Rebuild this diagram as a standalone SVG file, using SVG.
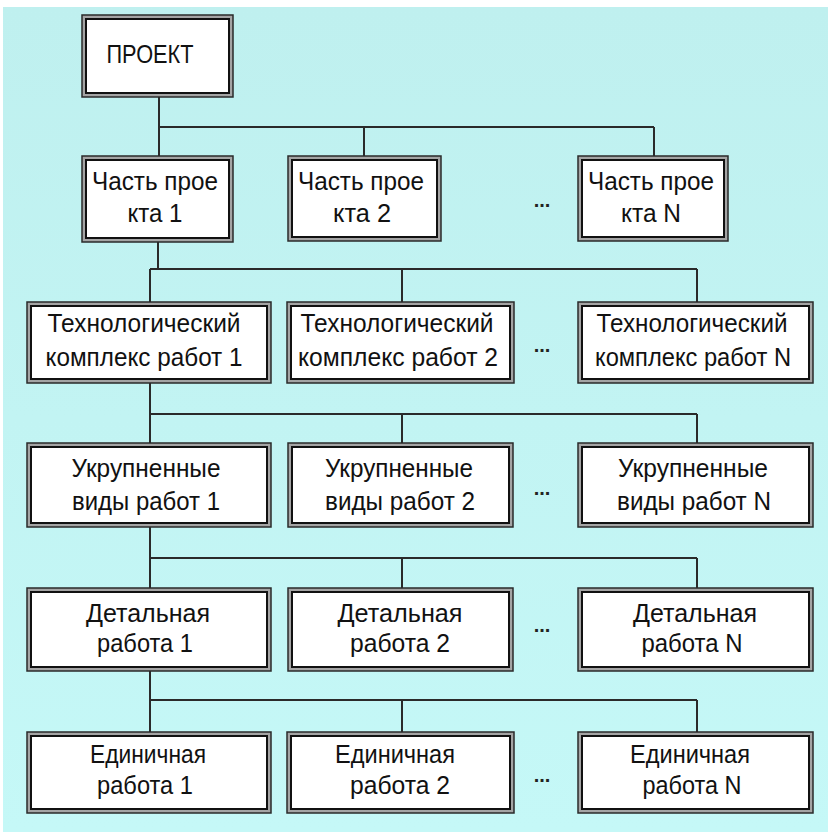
<svg xmlns="http://www.w3.org/2000/svg" width="828" height="832" viewBox="0 0 828 832">
<defs>
<linearGradient id="bg" x1="0" y1="0" x2="0" y2="1">
<stop offset="0" stop-color="#bff0ef"/>
<stop offset="1" stop-color="#c5f8f7"/>
</linearGradient>
</defs>
<style>
.o{fill:#a4a4a4;stroke:#2a2a2a;stroke-width:1.5}
.i{fill:#ffffff;stroke:#111;stroke-width:2}
.t{font-family:"Liberation Sans",Arial,sans-serif;font-size:26.5px;fill:#111;text-anchor:middle}
.d{font-family:"Liberation Sans",Arial,sans-serif;font-size:20px;font-weight:bold;fill:#222;text-anchor:middle}
.c{stroke:#2a2a2a;stroke-width:2;fill:none}
</style>
<rect x="0" y="0" width="828" height="832" fill="#ffffff"/>
<rect x="3" y="7" width="825" height="825" fill="url(#bg)"/>
<g id="connectors" class="c">
<path d="M159 97V156M159 127H654M364 127V156M654 127V156"/>
<path d="M158 242V269M150 269H697M150 269V302M402 269V302M697 269V302"/>
<path d="M150 383V443M150 414H697M402 414V443M697 414V443"/>
<path d="M150 527V588M150 558H697M402 558V588M697 558V588"/>
<path d="M150 671V732M150 700H697M402 700V732M697 700V732"/>
</g>
<g id="project"><rect class="o" x="82" y="15" width="151" height="82"/><rect class="i" x="86" y="19" width="143" height="74"/><text class="t" x="150" y="63" textLength="87" lengthAdjust="spacingAndGlyphs">ПРОЕКТ</text></g>
<g id="part1"><rect class="o" x="82" y="156" width="151" height="86"/><rect class="i" x="86" y="160" width="143" height="78"/><text class="t" x="155" y="190" textLength="126" lengthAdjust="spacingAndGlyphs">Часть прое</text><text class="t" x="155" y="222" textLength="55" lengthAdjust="spacingAndGlyphs">кта 1</text></g>
<g id="part2"><rect class="o" x="288" y="156" width="153" height="85"/><rect class="i" x="292" y="160" width="145" height="77"/><text class="t" x="361" y="190" textLength="126" lengthAdjust="spacingAndGlyphs">Часть прое</text><text class="t" x="362" y="222" textLength="58" lengthAdjust="spacingAndGlyphs">кта 2</text></g>
<g id="partN"><rect class="o" x="578" y="156" width="150" height="85"/><rect class="i" x="582" y="160" width="142" height="77"/><text class="t" x="651" y="190" textLength="126" lengthAdjust="spacingAndGlyphs">Часть прое</text><text class="t" x="651" y="222" textLength="60" lengthAdjust="spacingAndGlyphs">кта N</text></g>
<g id="tech1"><rect class="o" x="27" y="302" width="244" height="81"/><rect class="i" x="31" y="306" width="236" height="73"/><text class="t" x="144" y="332" textLength="193" lengthAdjust="spacingAndGlyphs">Технологический</text><text class="t" x="144" y="366" textLength="197" lengthAdjust="spacingAndGlyphs">комплекс работ 1</text></g>
<g id="tech2"><rect class="o" x="287" y="302" width="227" height="81"/><rect class="i" x="291" y="306" width="219" height="73"/><text class="t" x="397" y="332" textLength="193" lengthAdjust="spacingAndGlyphs">Технологический</text><text class="t" x="398" y="366" textLength="200" lengthAdjust="spacingAndGlyphs">комплекс работ 2</text></g>
<g id="techN"><rect class="o" x="578" y="302" width="235" height="81"/><rect class="i" x="582" y="306" width="227" height="73"/><text class="t" x="692" y="332" textLength="191" lengthAdjust="spacingAndGlyphs">Технологический</text><text class="t" x="693" y="366" textLength="196" lengthAdjust="spacingAndGlyphs">комплекс работ N</text></g>
<g id="ukr1"><rect class="o" x="27" y="443" width="244" height="84"/><rect class="i" x="31" y="447" width="236" height="76"/><text class="t" x="146" y="477" textLength="149" lengthAdjust="spacingAndGlyphs">Укрупненные</text><text class="t" x="146" y="510" textLength="148" lengthAdjust="spacingAndGlyphs">виды работ 1</text></g>
<g id="ukr2"><rect class="o" x="288" y="443" width="225" height="84"/><rect class="i" x="292" y="447" width="217" height="76"/><text class="t" x="399" y="477" textLength="148" lengthAdjust="spacingAndGlyphs">Укрупненные</text><text class="t" x="400" y="510" textLength="150" lengthAdjust="spacingAndGlyphs">виды работ 2</text></g>
<g id="ukrN"><rect class="o" x="578" y="443" width="235" height="84"/><rect class="i" x="582" y="447" width="227" height="76"/><text class="t" x="693" y="477" textLength="150" lengthAdjust="spacingAndGlyphs">Укрупненные</text><text class="t" x="694" y="510" textLength="154" lengthAdjust="spacingAndGlyphs">виды работ N</text></g>
<g id="det1"><rect class="o" x="27" y="588" width="244" height="83"/><rect class="i" x="31" y="592" width="236" height="75"/><text class="t" x="148" y="622" textLength="124" lengthAdjust="spacingAndGlyphs">Детальная</text><text class="t" x="145" y="652" textLength="96" lengthAdjust="spacingAndGlyphs">работа 1</text></g>
<g id="det2"><rect class="o" x="288" y="588" width="225" height="83"/><rect class="i" x="292" y="592" width="217" height="75"/><text class="t" x="400" y="622" textLength="125" lengthAdjust="spacingAndGlyphs">Детальная</text><text class="t" x="400" y="652" textLength="100" lengthAdjust="spacingAndGlyphs">работа 2</text></g>
<g id="detN"><rect class="o" x="578" y="588" width="235" height="83"/><rect class="i" x="582" y="592" width="227" height="75"/><text class="t" x="695" y="622" textLength="124" lengthAdjust="spacingAndGlyphs">Детальная</text><text class="t" x="692" y="652" textLength="101" lengthAdjust="spacingAndGlyphs">работа N</text></g>
<g id="ed1"><rect class="o" x="27" y="732" width="244" height="81"/><rect class="i" x="31" y="736" width="236" height="73"/><text class="t" x="148" y="763" textLength="116" lengthAdjust="spacingAndGlyphs">Единичная</text><text class="t" x="145" y="794" textLength="96" lengthAdjust="spacingAndGlyphs">работа 1</text></g>
<g id="ed2"><rect class="o" x="287" y="732" width="227" height="81"/><rect class="i" x="291" y="736" width="219" height="73"/><text class="t" x="395" y="763" textLength="120" lengthAdjust="spacingAndGlyphs">Единичная</text><text class="t" x="400" y="794" textLength="100" lengthAdjust="spacingAndGlyphs">работа 2</text></g>
<g id="edN"><rect class="o" x="578" y="732" width="235" height="81"/><rect class="i" x="582" y="736" width="227" height="73"/><text class="t" x="690" y="763" textLength="120" lengthAdjust="spacingAndGlyphs">Единичная</text><text class="t" x="692" y="794" textLength="99" lengthAdjust="spacingAndGlyphs">работа N</text></g>
<g id="dots">
<text class="d" x="542" y="207">...</text>
<text class="d" x="542" y="352">...</text>
<text class="d" x="542" y="495">...</text>
<text class="d" x="542" y="632">...</text>
<text class="d" x="542" y="782">...</text>
</g>
</svg>
